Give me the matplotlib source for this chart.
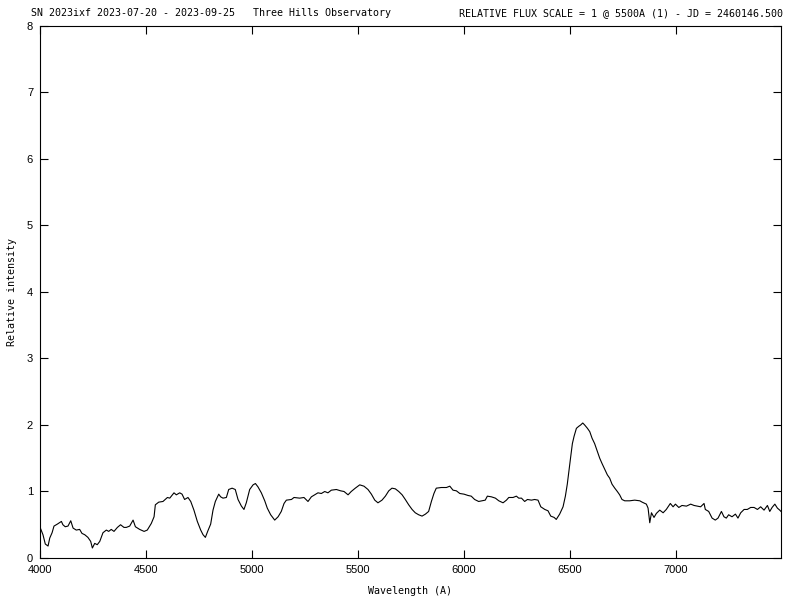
import matplotlib
matplotlib.use("Agg")
import matplotlib.pyplot as plt

wavelength = [
    4000, 4003, 4014, 4025, 4038, 4046, 4057, 4066, 4082, 4101, 4108, 4119, 4132, 4145, 4156,
    4171, 4187, 4198, 4211, 4226, 4239, 4247, 4258, 4270, 4282, 4297, 4313, 4324, 4336, 4349,
    4365, 4380, 4396, 4407, 4423, 4439, 4450, 4470, 4491, 4506, 4525, 4538, 4544, 4560, 4580,
    4601, 4612, 4632, 4643, 4659, 4670, 4682, 4698, 4711, 4726, 4742, 4758, 4769, 4780, 4792,
    4805, 4816, 4827, 4843, 4852, 4863, 4879, 4890, 4906, 4921, 4934, 4950, 4962, 4973, 4989,
    5005, 5016, 5028, 5044, 5060, 5072, 5088, 5107, 5123, 5138, 5151, 5162, 5186, 5198, 5225,
    5245, 5264, 5280, 5296, 5311, 5327, 5343, 5358, 5374, 5398, 5418, 5434, 5453, 5468, 5487,
    5508, 5528, 5547, 5563, 5579, 5594, 5613, 5629, 5645, 5660, 5676, 5692, 5708, 5723, 5739,
    5755, 5770, 5786, 5802, 5818, 5833, 5846, 5858, 5869, 5893, 5917, 5933, 5948, 5964, 5980,
    6000, 6019, 6034, 6050, 6069, 6085, 6100, 6110, 6129, 6148, 6164, 6184, 6200, 6211, 6231,
    6247, 6258, 6271, 6286, 6299, 6318, 6333, 6349, 6362, 6381, 6396, 6409, 6425, 6435, 6451,
    6467, 6478, 6487, 6495, 6503, 6511, 6519, 6530, 6541, 6550, 6560, 6569, 6582, 6593, 6604,
    6616, 6629, 6640, 6651, 6664, 6676, 6687, 6698, 6711, 6723, 6734, 6745, 6758, 6781, 6805,
    6829, 6840, 6860, 6868, 6876, 6884, 6896, 6907, 6923, 6939, 6954, 6973, 6986, 6997, 7013,
    7028, 7049, 7069, 7085, 7101, 7116, 7132, 7138, 7154, 7170, 7185, 7198, 7214, 7226, 7237,
    7248, 7264, 7280, 7292, 7305, 7321, 7336, 7352, 7368, 7384, 7399, 7415, 7431, 7442, 7453,
    7466, 7478, 7489, 7495,
]
intensity = [
    0.45, 0.44, 0.35, 0.21, 0.18, 0.30, 0.38, 0.48, 0.51, 0.55, 0.50, 0.47, 0.48, 0.56, 0.45,
    0.42, 0.43, 0.37, 0.35, 0.31, 0.25, 0.15, 0.22, 0.20, 0.25, 0.38, 0.42, 0.40, 0.43, 0.40,
    0.46, 0.50, 0.46, 0.46, 0.48, 0.57, 0.47, 0.43, 0.40, 0.42, 0.52, 0.62, 0.80, 0.84, 0.85,
    0.91, 0.90, 0.98, 0.95, 0.98, 0.96, 0.88, 0.91, 0.85, 0.72, 0.55, 0.42, 0.35, 0.31, 0.41,
    0.51, 0.72, 0.85, 0.96, 0.92, 0.90, 0.91, 1.03, 1.05, 1.03, 0.88, 0.78, 0.73, 0.83, 1.03,
    1.10, 1.12, 1.07, 0.98, 0.86, 0.75, 0.65, 0.57, 0.62, 0.70, 0.82, 0.87, 0.88, 0.91, 0.90,
    0.91, 0.85, 0.92, 0.95, 0.98, 0.97, 1.00, 0.98, 1.02, 1.03, 1.01, 1.00, 0.95, 1.00, 1.05,
    1.10, 1.08, 1.03, 0.96, 0.87, 0.83, 0.87, 0.93, 1.01, 1.05, 1.04, 1.00, 0.95, 0.88, 0.80,
    0.73, 0.68, 0.65, 0.63, 0.66, 0.70, 0.85, 0.97, 1.05, 1.06, 1.06, 1.08, 1.02, 1.01, 0.97,
    0.96, 0.94, 0.93, 0.88, 0.85, 0.86, 0.87, 0.93, 0.92, 0.90, 0.86, 0.83, 0.87, 0.91, 0.91,
    0.93, 0.90, 0.90, 0.85, 0.88, 0.87, 0.88, 0.87, 0.77, 0.73, 0.71, 0.63, 0.61, 0.58, 0.66,
    0.77, 0.93, 1.11, 1.32, 1.52, 1.72, 1.83, 1.95, 1.98, 2.00, 2.03, 2.00, 1.95, 1.90, 1.80,
    1.72, 1.60, 1.50, 1.42, 1.33, 1.25, 1.20, 1.11, 1.05, 1.00, 0.95, 0.88, 0.86, 0.86, 0.87,
    0.86, 0.84, 0.81, 0.75, 0.53, 0.68, 0.61, 0.67, 0.72, 0.68, 0.73, 0.82, 0.77, 0.81, 0.76,
    0.79, 0.78, 0.81, 0.79, 0.78, 0.77, 0.82, 0.73, 0.70, 0.60, 0.57, 0.60, 0.70, 0.62, 0.60,
    0.65, 0.62, 0.66, 0.60, 0.68, 0.73, 0.73, 0.76, 0.76, 0.73, 0.77, 0.72, 0.79, 0.70, 0.76,
    0.81, 0.75, 0.72, 0.70,
]

x_ticks = [4000, 4500, 5000, 5500, 6000, 6500, 7000]
y_ticks = [0, 1, 2, 3, 4, 5, 6, 7, 8]

title_left = "SN 2023ixf 2023-07-20 - 2023-09-25   Three Hills Observatory"
title_right = "RELATIVE FLUX SCALE = 1 @ 5500A (1) - JD = 2460146.500"
x_label = "Wavelength (A)"
y_label = "Relative intensity"

mono = "DejaVu Sans Mono"

fig = plt.figure(figsize=(8, 6), dpi=100)
ax = fig.add_axes([0.05, 0.07, 0.92625, 0.8867])
ax.plot(wavelength, intensity, color="black", linewidth=0.8)
ax.set_xlim(4000, 7495)
ax.set_ylim(0, 8)
ax.set_xticks(x_ticks)
ax.set_yticks(y_ticks)
ax.tick_params(direction="in", top=True, right=True, length=6, width=0.8,
               labelsize=8, pad=5)
for lab in ax.get_xticklabels() + ax.get_yticklabels():
    lab.set_fontfamily("Liberation Sans")
for sp in ax.spines.values():
    sp.set_linewidth(0.8)

ax.set_xlabel(x_label, fontfamily=mono, fontsize=7.2, labelpad=8)
ax.set_ylabel(y_label, fontfamily=mono, fontsize=7.2, labelpad=7)

fig.text(31 / 800, 1 - 13 / 600, title_left, fontfamily=mono, fontsize=7.2,
         ha="left", va="center")
fig.text(783 / 800, 1 - 13 / 600, title_right, fontfamily=mono, fontsize=7.2,
         ha="right", va="center")

fig.savefig("out.png", dpi=100)
